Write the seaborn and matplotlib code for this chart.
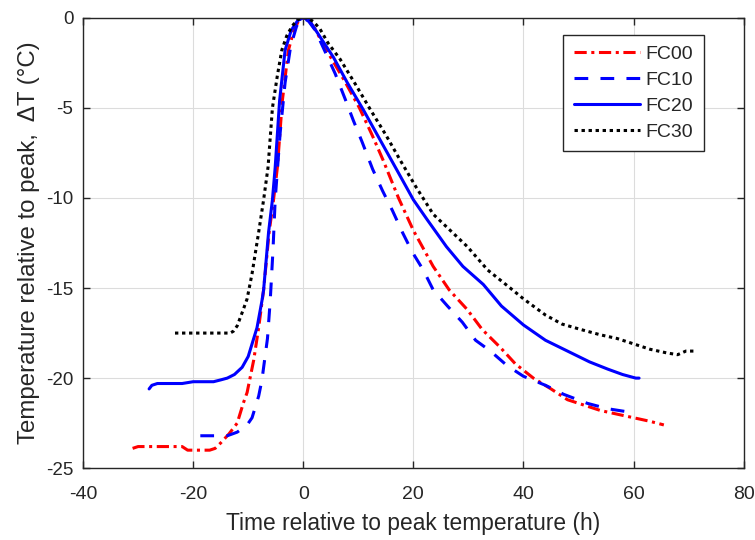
import matplotlib
matplotlib.use("Agg")
import matplotlib.pyplot as plt
import seaborn as sns
import pandas as pd

# series (time in h, delta T in degC)
fc00_x = [-31, -30, -27, -24, -22, -21, -19, -17, -16, -15, -13.5, -12, -10.9, -10.2, -9, -8.1, -7.2,
          -6.2, -5.4, -4.7, -3.8, -2.7, -1.8, -1, 0, 1, 2, 3.5, 5, 7.5, 10.2, 12.5, 14.5, 17.3, 20,
          23.6, 26.5, 29.8, 32.5, 35.8, 38.5, 41.8, 45, 48, 51, 54, 57, 60, 63, 65.5]
fc00_y = [-23.9, -23.8, -23.8, -23.8, -23.8, -24.0, -24.0, -24.0, -23.9, -23.6, -23.1, -22.5, -21.4, -20.8,
          -19.0, -17.2, -15.1, -11.9, -10.1, -8.3, -4.6, -1.8, -0.8, -0.25, 0, -0.15, -0.55, -1.4, -2.2,
          -3.5, -5.0, -6.5, -7.9, -10.0, -11.8, -13.8, -15.1, -16.2, -17.3, -18.3, -19.2, -20.0, -20.6,
          -21.2, -21.5, -21.8, -22.0, -22.2, -22.4, -22.6]

fc10_x = [-18.7, -16.5, -13.8, -12, -10.2, -9.3, -8.7, -8.1, -7.5, -7.2, -6.5, -6.0, -5.5, -5.1, -4.2,
          -3.3, -2.3, -1.2, 0, 1, 2.2, 4.3, 5.8, 7.6, 9.1, 10.7, 12.6, 14.4, 16.2, 18, 19.8, 21.8, 23.6,
          26.2, 28.9, 31.3, 34, 37, 40, 44, 47.3, 51.6, 55.3, 59.5, 60.5]
fc10_y = [-23.2, -23.2, -23.2, -23.0, -22.6, -22.2, -21.6, -21.0, -20.1, -19.4, -17.8, -15.7, -12.9, -10.1,
          -6.4, -3.6, -1.6, -0.45, 0, -0.2, -0.7, -2.1, -3.1, -4.5, -5.7, -6.9, -8.4, -9.6, -10.7, -11.9,
          -13.0, -14.0, -15.1, -16.0, -16.9, -17.9, -18.5, -19.3, -19.9, -20.4, -20.9, -21.4, -21.7,
          -21.9, -21.9]

fc20_x = [-28, -27.5, -26.5, -24, -22, -20, -18, -16.3, -15, -13.8, -12.5, -11.1, -10, -9.1, -8.4, -7.5,
          -7.2, -6.3, -5.6, -5.1, -4.3, -3.3, -2.2, -1, 0, 1, 2.5, 5.5, 8, 10.9, 14, 17.1, 20, 22.5, 26,
          29, 32.7, 36, 40, 44, 48, 52, 55.3, 58, 60.4, 61]
fc20_y = [-20.6, -20.4, -20.3, -20.3, -20.3, -20.2, -20.2, -20.2, -20.1, -20.0, -19.8, -19.4, -18.8, -17.9,
          -17.2, -15.7, -15.1, -11.9, -10.1, -8.3, -4.6, -1.8, -0.7, -0.15, 0, -0.1, -0.8, -2.2, -3.6,
          -5.1, -6.8, -8.5, -10.1, -11.2, -12.7, -13.8, -14.8, -16.0, -17.05, -17.9, -18.5, -19.1,
          -19.5, -19.8, -20.0, -20.0]

fc30_x = [-23.3, -20, -17, -15, -13.3, -12.7, -12, -10.9, -10.2, -9.3, -8.1, -7.2, -6.4, -5.6, -4.7,
          -3.9, -3, -2, -1, 0, 0.8, 1.8, 3, 4.5, 6.7, 9.5, 12.2, 15, 17.6, 20.5, 23.6, 26.7, 29.8, 33.5,
          37.6, 40, 44, 47, 50.4, 54, 57, 60, 63, 66, 68, 69.5, 71]
fc30_y = [-17.5, -17.5, -17.5, -17.5, -17.5, -17.4, -17.1, -16.2, -15.6, -14.2, -11.9, -10.1, -8.3, -5.0,
          -3.2, -1.8, -1.0, -0.45, -0.1, 0, 0, -0.2, -0.6, -1.4, -2.3, -3.7, -5.1, -6.5, -7.9, -9.4,
          -10.9, -11.8, -12.7, -14.0, -15.0, -15.6, -16.5, -17.0, -17.3, -17.6, -17.8, -18.1, -18.4,
          -18.6, -18.7, -18.5, -18.5]

labels = ["FC00", "FC10", "FC20", "FC30"]
colors = ["#ff0000", "#0000ff", "#0000ff", "#000000"]
dashes = [(4, 1.5, 1, 1.5), (4.5, 4), None, (1.1, 1.2)]

series = [(fc00_x, fc00_y), (fc10_x, fc10_y), (fc20_x, fc20_y), (fc30_x, fc30_y)]

sns.set_theme(style="whitegrid")
plt.rcParams['font.family'] = ['Liberation Sans', 'DejaVu Sans']
plt.rcParams['axes.unicode_minus'] = False

fig = plt.figure(figsize=(7.55, 5.4), dpi=100)
ax = fig.add_axes([0.110, 0.133, 0.875, 0.834])

for (xs, ys), lab, col, d in zip(series, labels, colors, dashes):
    df = pd.DataFrame({"t": xs, "dT": ys})
    sns.lineplot(data=df, x="t", y="dT", ax=ax, color=col, lw=2.2, label=lab,
                 sort=False, estimator=None)
    if d is not None:
        ax.get_lines()[-1].set_dashes(d)

ax.set_xlim(-40, 80)
ax.set_ylim(-25, 0)
ax.set_xticks(range(-40, 81, 20))
ax.set_yticks(range(-25, 1, 5))

ax.grid(True, color="#dcdcdc", lw=0.8)
for s in ax.spines.values():
    s.set_color("#262626")
    s.set_linewidth(1.0)
    s.set_visible(True)
ax.tick_params(direction="in", length=5, width=1, color="#262626",
               labelcolor="#262626", top=True, right=True, bottom=True, left=True)
ax.tick_params(axis="x", labelsize=14, pad=13)
ax.tick_params(axis="y", labelsize=13.5, pad=7)

ax.set_xlabel("Time relative to peak temperature (h)", fontsize=16.4, color="#262626", labelpad=6)
ax.set_ylabel("Temperature relative to peak,  \u0394T (\u00b0C)", fontsize=17.3, color="#262626", labelpad=4)

leg = ax.legend(loc="upper right", bbox_to_anchor=(0.9395, 0.962), borderaxespad=0, fontsize=14,
                handlelength=3.4, frameon=True, fancybox=False, borderpad=0.55, labelspacing=0.42,
                handletextpad=0.27)
leg.get_frame().set_edgecolor("#262626")
leg.get_frame().set_linewidth(1.0)
leg.get_frame().set_alpha(1)

fig.savefig("out.png", dpi=100, facecolor="white")
